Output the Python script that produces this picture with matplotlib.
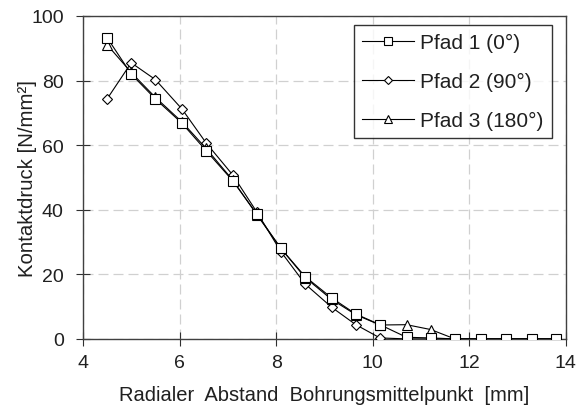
import matplotlib.pyplot as plt

# radial distance from bore centre [mm]
radius = [4.5, 5.0, 5.5, 6.05, 6.55, 7.1, 7.6, 8.1, 8.6, 9.15, 9.65, 10.15,
          10.7, 11.2, 11.7, 12.25, 12.75, 13.3, 13.8]

pfad1 = [93.3, 82.0, 74.3, 66.8, 58.3, 49.0, 38.7, 28.0, 19.3, 12.7, 7.7, 4.4,
         0.5, 0.3, 0.0, 0.0, 0.0, 0.0, 0.0]
pfad2 = [74.3, 85.5, 80.3, 71.2, 60.7, 50.8, 39.3, 27.0, 17.0, 9.8, 4.4, 0.3,
         0.0, 0.0, 0.0, 0.0, 0.0, 0.0, 0.0]
pfad3 = [91.1, 82.5, 74.8, 67.2, 59.0, 49.2, 38.5, 28.0, 19.0, 12.2, 7.5, 4.3,
         4.4, 2.9, 0.0, 0.0, 0.0, 0.0, 0.0]

labels = ["Pfad 1 (0°)", "Pfad 2 (90°)", "Pfad 3 (180°)"]

plt.rcParams["font.family"] = ["Liberation Sans", "DejaVu Sans"]

fig = plt.figure(figsize=(5.84, 4.14), dpi=100)
ax = fig.add_axes([0.142, 0.179, 0.827, 0.780])

style = dict(color="black", linewidth=0.8, markerfacecolor="white",
             markeredgecolor="black", markeredgewidth=0.8)
ax.plot(radius, pfad1, marker="s", markersize=7, label=labels[0], zorder=4, **style)
ax.plot(radius, pfad2, marker="D", markersize=5.5, label=labels[1], zorder=3, **style)
ax.plot(radius, pfad3, marker="^", markersize=7, label=labels[2], zorder=3, **style)

ax.set_xlim(4, 14)
ax.set_ylim(0, 100)
ax.set_xticks([4, 6, 8, 10, 12, 14])
ax.set_yticks([0, 20, 40, 60, 80, 100])
ax.tick_params(labelsize=14, direction="inout", length=9.6, width=0.8,
               colors="#303030", labelcolor="#202020")
ax.tick_params(axis="x", pad=6)
ax.tick_params(axis="y", pad=9)
ax.grid(True, linestyle=(0, (8, 4)), color="#d0d0d0", linewidth=0.9)
ax.set_axisbelow(True)
for s in ax.spines.values():
    s.set_color("#404040")
    s.set_linewidth(1.0)

ax.set_xlabel("Radialer  Abstand  Bohrungsmittelpunkt  [mm]", fontsize=14.5,
              color="#202020")
ax.set_ylabel("Kontaktdruck [N/mm²]", fontsize=14.7, color="#202020")
ax.xaxis.set_label_coords(0.5, -0.142)
ax.yaxis.set_label_coords(-0.095, 0.5)

leg = ax.legend(loc="upper right", bbox_to_anchor=(0.971, 0.972), borderaxespad=0,
                fontsize=15, frameon=True, fancybox=False, markerscale=0.75,
                handlelength=2.5, labelspacing=0.95, handletextpad=0.3,
                borderpad=0.4)
leg.get_frame().set_edgecolor("black")
leg.get_frame().set_linewidth(1.0)
for t in leg.get_texts():
    t.set_color("#202020")

fig.savefig("out.png", dpi=100)
